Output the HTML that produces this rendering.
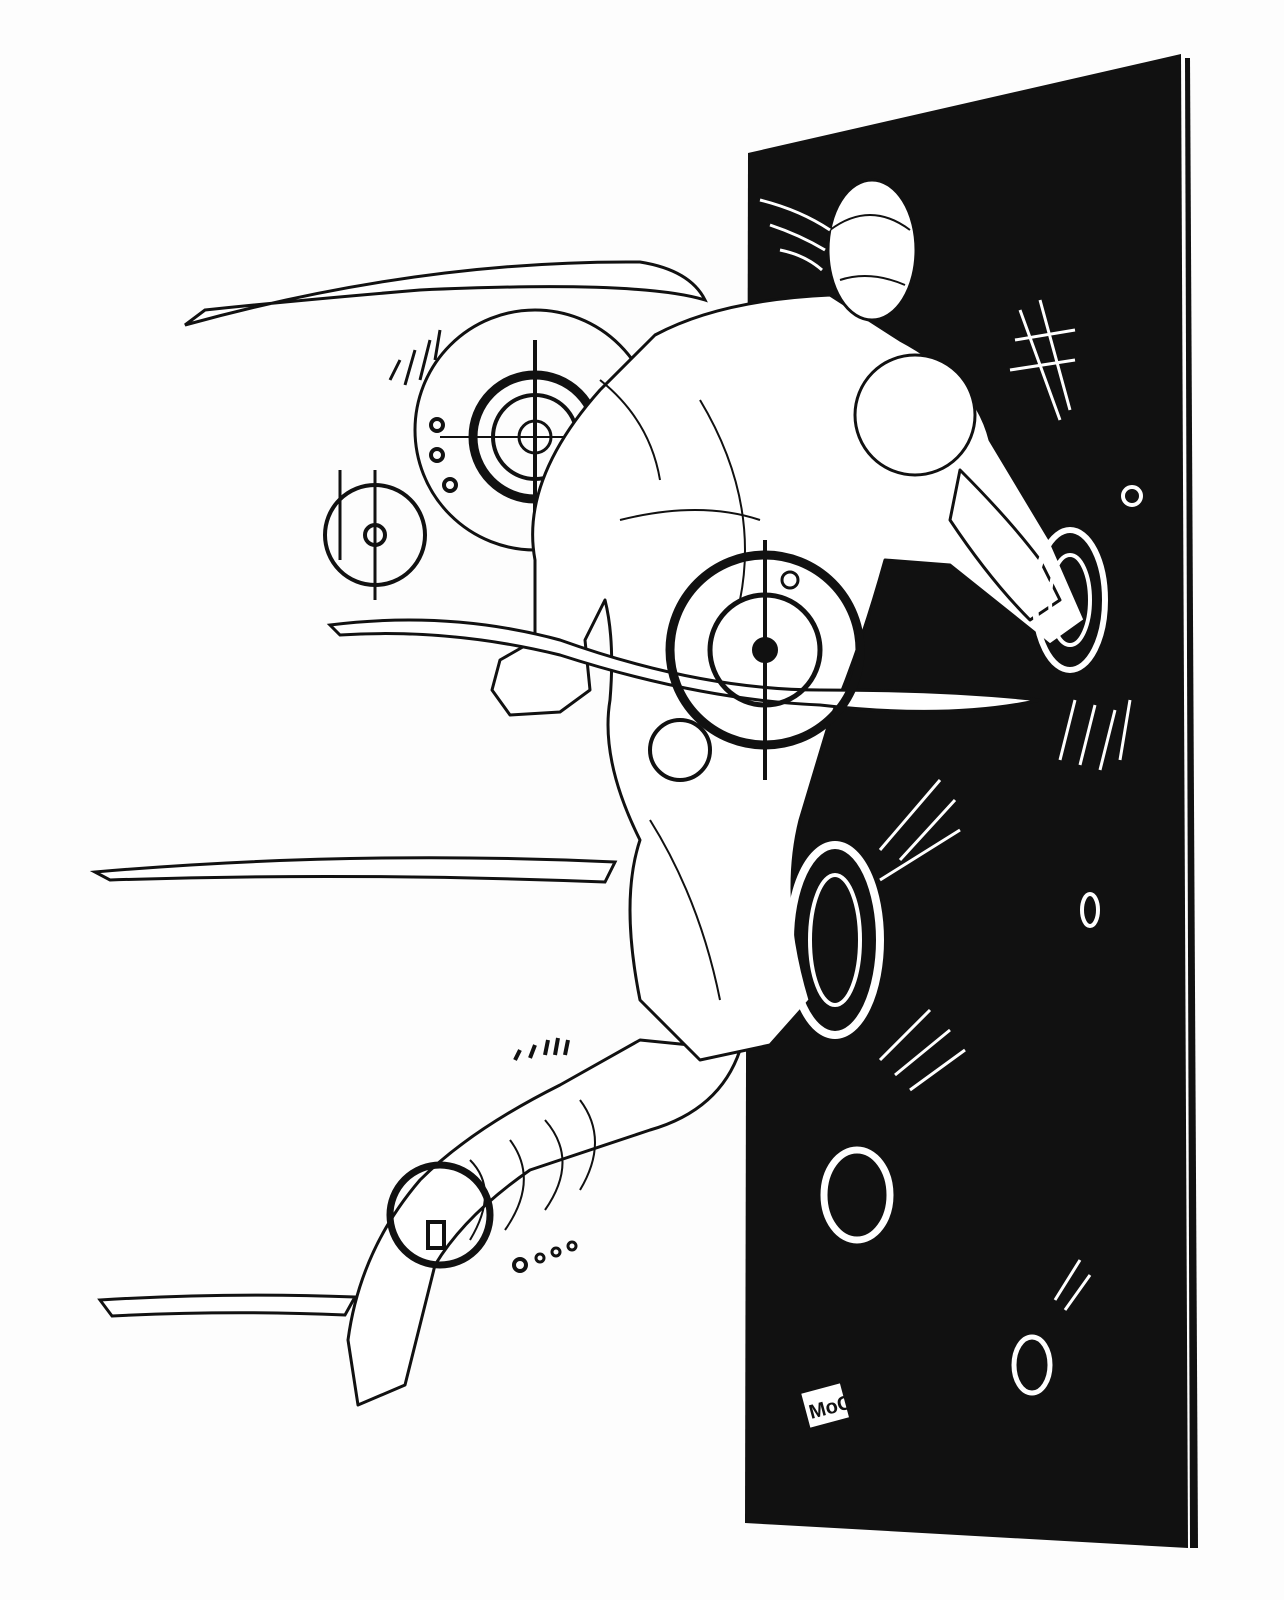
<!DOCTYPE html>
<html><head><meta charset="utf-8"><style>
html,body{margin:0;padding:0;background:#fff;}
svg{display:block;}
</style></head><body>
<svg width="1284" height="1600" viewBox="0 0 1284 1600" xmlns="http://www.w3.org/2000/svg">
<rect width="1284" height="1600" fill="#fdfdfd"/>
<!-- panel -->
<polygon points="748,153 1181,54 1188,1548 745,1523" fill="#111"/>
<polygon points="1185,58 1190,58 1198,1548 1190,1548" fill="#111"/>
<!-- motion streaks -->
<g fill="#fff" stroke="#111" stroke-width="3">
<path d="M185,325 Q420,260 640,262 Q690,270 705,300 Q640,280 420,290 Q300,300 205,310 Z"/>
<path d="M95,872 Q350,850 615,862 L605,882 Q350,872 110,880 Z"/>
<path d="M100,1300 Q230,1292 355,1297 L345,1315 Q230,1310 112,1316 Z"/>
</g>
<!-- target circles left -->
<g fill="none" stroke="#111">
<circle cx="535" cy="430" r="120" stroke-width="3"/>
<circle cx="535" cy="437" r="62" stroke-width="9"/>
<circle cx="535" cy="437" r="42" stroke-width="4"/>
<circle cx="535" cy="437" r="16" stroke-width="3"/>
<line x1="535" y1="340" x2="535" y2="520" stroke-width="4"/>
<line x1="440" y1="437" x2="640" y2="437" stroke-width="2"/>
<circle cx="375" cy="535" r="50" stroke-width="4"/>
<circle cx="375" cy="535" r="10" stroke-width="4"/>
<line x1="375" y1="470" x2="375" y2="600" stroke-width="3"/>
<line x1="340" y1="470" x2="340" y2="560" stroke-width="3"/>
<circle cx="437" cy="425" r="6" stroke-width="4"/>
<circle cx="437" cy="455" r="6" stroke-width="4"/>
<circle cx="450" cy="485" r="6" stroke-width="4"/>
<circle cx="595" cy="495" r="5" stroke-width="3"/>
<path d="M390,380 L400,360 M405,385 L415,350 M420,380 L430,340 M435,360 L440,330" stroke-width="3"/>
<path d="M560,540 L575,560 M575,535 L590,555 M590,528 L605,548" stroke-width="3"/>
</g>
<!-- figure -->
<g fill="#fff" stroke="#111" stroke-width="3" stroke-linejoin="round">
<path d="M640,1040 L740,1050 Q720,1110 650,1130 L530,1170 Q465,1215 435,1265 L405,1385 L358,1405 L348,1340 Q360,1250 420,1180 Q470,1130 560,1085 Z"/>
<path d="M655,335 Q720,300 830,295 L900,340 Q975,380 990,440 L1050,540 L1085,620 L1050,645 Q1000,605 950,565 L885,560 Q860,650 830,720 L800,820 Q780,900 810,1000 L770,1045 L700,1060 L640,1000 Q620,900 640,840 Q600,760 610,700 Q615,640 605,600 L585,640 L590,690 L560,712 L510,715 L492,690 L500,660 L535,640 L535,560 Q520,480 600,390 Z"/>
<ellipse cx="872" cy="250" rx="44" ry="70"/>
<circle cx="915" cy="415" r="60"/>
<path d="M960,470 Q1010,520 1040,560 L1060,600 L1030,620 Q990,580 950,520 Z"/>
</g>
<g fill="none" stroke="#111" stroke-width="2">
<path d="M700,400 Q760,500 740,600"/><path d="M650,820 Q700,900 720,1000"/>
<path d="M830,230 Q870,200 910,230"/><path d="M840,280 Q870,270 905,285"/>
<path d="M470,1160 Q500,1190 470,1240"/><path d="M510,1140 Q540,1180 505,1230"/>
<path d="M545,1120 Q580,1160 545,1210"/><path d="M580,1100 Q610,1140 580,1190"/>
<path d="M600,380 Q650,420 660,480"/><path d="M620,520 Q700,500 760,520"/>
</g>
<!-- wave streak over figure -->
<path d="M330,625 Q450,610 560,640 Q700,690 820,690 Q950,690 1040,700 Q950,720 820,705 Q700,700 560,655 Q450,628 340,635 Z" fill="#fff" stroke="#111" stroke-width="3"/>
<!-- central target -->
<g fill="none" stroke="#111">
<circle cx="765" cy="650" r="95" stroke-width="9"/>
<circle cx="765" cy="650" r="55" stroke-width="5"/>
<circle cx="765" cy="650" r="12" fill="#111" stroke-width="2"/>
<line x1="765" y1="540" x2="765" y2="780" stroke-width="4"/>
<circle cx="790" cy="580" r="8" stroke-width="3"/>
<circle cx="680" cy="750" r="30" stroke-width="4" fill="#fff"/>
<circle cx="440" cy="1215" r="50" stroke-width="7"/>
<rect x="428" y="1222" width="16" height="26" stroke-width="4" fill="#fff"/>
<circle cx="520" cy="1265" r="6" stroke-width="4"/>
<circle cx="540" cy="1258" r="4" stroke-width="3"/>
<circle cx="556" cy="1252" r="4" stroke-width="3"/>
<circle cx="572" cy="1246" r="4" stroke-width="3"/>
<path d="M515,1060 L520,1050 M530,1058 L535,1045 M545,1055 L548,1040 M555,1055 L558,1038 M565,1055 L568,1040" stroke-width="4"/>
</g>
<!-- panel white elements -->
<g fill="none" stroke="#fff">
<circle cx="1132" cy="496" r="9" stroke-width="4"/>
<ellipse cx="1090" cy="910" rx="8" ry="16" stroke-width="4"/>
<ellipse cx="857" cy="1195" rx="33" ry="45" stroke-width="7"/>
<ellipse cx="1032" cy="1365" rx="18" ry="28" stroke-width="5"/>
<ellipse cx="1070" cy="600" rx="35" ry="70" stroke-width="6"/>
<ellipse cx="1070" cy="600" rx="20" ry="45" stroke-width="4"/>
<ellipse cx="835" cy="940" rx="45" ry="95" stroke-width="8"/>
<ellipse cx="835" cy="940" rx="25" ry="65" stroke-width="4"/>
<path d="M1020,310 L1060,420 M1040,300 L1070,410 M1015,340 L1075,330 M1010,370 L1075,360" stroke-width="3"/>
<path d="M1060,760 L1075,700 M1080,765 L1095,705 M1100,770 L1115,710 M1120,760 L1130,700" stroke-width="3"/>
<path d="M880,850 L940,780 M900,860 L955,800 M880,880 L960,830" stroke-width="3"/>
<path d="M880,1060 L930,1010 M895,1075 L950,1030 M910,1090 L965,1050" stroke-width="3"/>
<path d="M1055,1300 L1080,1260 M1065,1310 L1090,1275" stroke-width="3"/>
<path d="M760,200 Q800,210 830,230 M770,225 Q800,235 825,250 M780,250 Q805,255 822,270" stroke-width="3"/>
</g>
<rect x="805" y="1388" width="40" height="35" fill="#fff" transform="rotate(-15 825 1405)"/>
<text x="808" y="1415" font-family="Liberation Sans, sans-serif" font-weight="bold" font-size="20" fill="#111" transform="rotate(-15 825 1405)">MoC</text>
</svg>
</body></html>
